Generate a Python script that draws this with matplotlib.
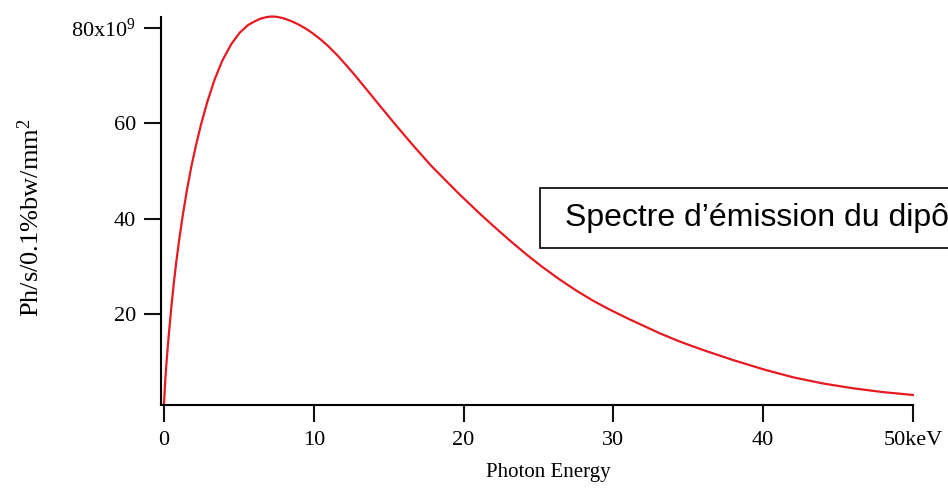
import numpy as np
import matplotlib
matplotlib.use('Agg')
import matplotlib.pyplot as plt
from matplotlib.patches import Rectangle

# photon energy (keV) and flux (1e9 ph/s/0.1%bw/mm^2)
energy = [0, 0.05, 0.1, 0.18, 0.27, 0.38, 0.49, 0.65, 0.82, 1.03, 1.27, 1.53, 1.82,
          2.14, 2.49, 2.9, 3.38, 3.9, 4.49, 5.05, 5.61, 6.0, 6.4, 6.8, 7.16, 7.5,
          7.9, 8.28, 8.6, 9.0, 9.5, 9.97, 10.5, 11.0, 11.6, 12.2, 12.75, 13.3,
          13.85, 14.42, 15.5, 16.64, 17.8, 18.87, 19.76, 21.1, 21.98, 23.1, 24.2,
          25.3, 26.4, 27.5, 28.66, 29.8, 30.9, 32.0, 33.1, 34.5, 36.0, 38.0, 40.2,
          42.0, 44.0, 46.0, 48.0, 50.0]
flux = [1.0, 4.2, 6.8, 10.3, 13.8, 17.7, 21.4, 26.3, 30.9, 35.9, 41.0, 45.9, 50.8,
        55.4, 59.9, 64.5, 69.1, 73.1, 76.5, 78.9, 80.5, 81.2, 81.8, 82.15, 82.3, 82.25,
        82.0, 81.6, 81.2, 80.6, 79.7, 78.7, 77.4, 76.0, 74.1, 72.0, 70.0, 67.9,
        65.8, 63.6, 59.5, 55.3, 51.2, 47.8, 45.0, 41.0, 38.5, 35.4, 32.5,
        29.8, 27.3, 25.0, 22.8, 20.9, 19.2, 17.6, 16.0, 14.2, 12.5, 10.4, 8.3,
        6.8, 5.5, 4.5, 3.7, 3.1]

xticks = [0, 10, 20, 30, 40, 50]
xtick_labels = ['0', '10', '20', '30', '40', '50keV']
yticks = [20, 40, 60, 80]
ytick_labels = ['20', '40', '60', r'80x10$^{9}$']

plt.rcParams.update({
    'font.family': 'Liberation Serif',
    'mathtext.fontset': 'custom',
    'mathtext.rm': 'Liberation Serif',
    'mathtext.it': 'Liberation Serif:italic',
    'font.size': 16,
})

fig = plt.figure(figsize=(9.48, 4.97), dpi=100)
ax = fig.add_axes([0.1698, 0.1851, 0.963 - 0.1698, 0.9658 - 0.1851])

ax.plot(energy, flux, color='#e51a22', linewidth=1.6, clip_on=False,
        solid_joinstyle='round')

ax.set_xlim(-0.2, 50)
ax.set_ylim(1.0, 82.2)
ax.set_xticks(xticks)
ax.set_xticklabels(xtick_labels)
ax.set_yticks(yticks)
ax.set_yticklabels(ytick_labels)

for side in ('top', 'right'):
    ax.spines[side].set_visible(False)
for side in ('left', 'bottom'):
    ax.spines[side].set_linewidth(1.5)
ax.tick_params(direction='out', length=12, width=1.5, labelsize=16, color='#111111')
ax.tick_params(axis='x', pad=7)
ax.tick_params(axis='y', pad=6)

ax.set_xlabel('Photon Energy', fontsize=15)
ax.xaxis.set_label_coords(0.515, -0.15)
ax.xaxis.label.set_va('top')
ax.set_ylabel('Ph/s/0.1%bw/mm$^{2}$', fontsize=19)
ax.yaxis.set_label_coords(-0.1556, 0.482)

# caption box running off the right edge
fig.patches.append(Rectangle((540 / 948, 0.501), 0.5, 0.1207, transform=fig.transFigure,
                             facecolor='white', edgecolor='black', linewidth=1.2))
fig.text(565 / 948, 0.561, 'Spectre d\u2019émission du dipôle', family='Liberation Sans',
         fontsize=23, va='center', ha='left')

fig.savefig('out.png', dpi=100)
